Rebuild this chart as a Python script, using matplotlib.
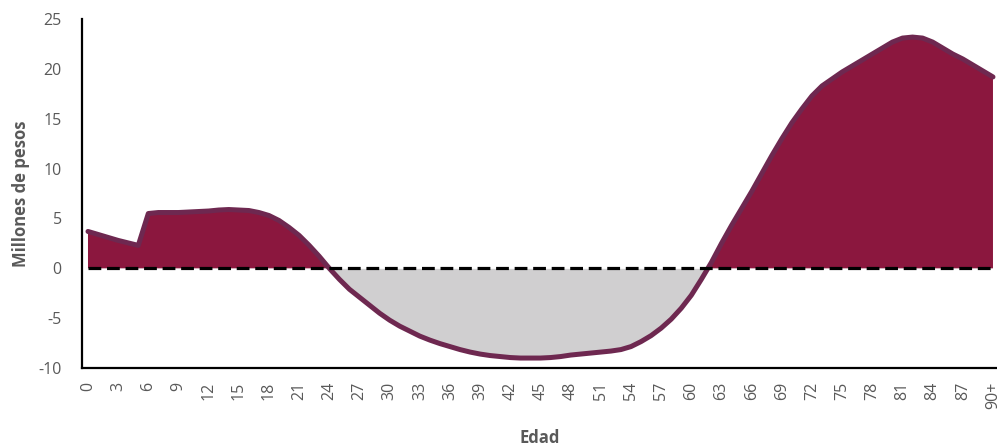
import matplotlib
matplotlib.use("Agg")
import matplotlib.pyplot as plt
import numpy as np

ages = list(range(91))
tick_labels = [str(a) for a in range(0, 90, 3)] + ["90+"]
values = [3.7, 3.4, 3.1, 2.8, 2.55, 2.3, 5.5, 5.6, 5.6, 5.6,
          5.65, 5.7, 5.75, 5.85, 5.9, 5.85, 5.8, 5.6, 5.3, 4.8,
          4.1, 3.3, 2.3, 1.2, 0.0, -1.1, -2.1, -2.9, -3.7, -4.5,
          -5.2, -5.8, -6.3, -6.8, -7.2, -7.55, -7.85, -8.15, -8.4, -8.6,
          -8.75, -8.85, -8.95, -9.0, -9.0, -9.0, -8.95, -8.85, -8.7, -8.6,
          -8.5, -8.4, -8.3, -8.15, -7.85, -7.35, -6.75, -6.0, -5.1, -4.0,
          -2.7, -1.1, 0.6, 2.5, 4.3, 6.0, 7.7, 9.5, 11.3, 13.0,
          14.6, 16.0, 17.3, 18.3, 19.0, 19.7, 20.3, 20.9, 21.5, 22.1,
          22.7, 23.1, 23.2, 23.1, 22.7, 22.1, 21.5, 21.0, 20.4, 19.8,
          19.2]

plt.rcParams['font.family'] = ['Open Sans', 'DejaVu Sans']
plt.rcParams['axes.unicode_minus'] = False
grey_txt = '#595959'

fig = plt.figure(figsize=(9.97, 4.45), dpi=100)
ax = fig.add_axes([0.0822, 0.173, 0.9178, 0.784])

x = np.array(ages, dtype=float)
y = np.array(values)
ax.fill_between(x, y, 0, where=y >= 0, interpolate=True, color='#8B173E', lw=0, zorder=1)
ax.fill_between(x, y, 0, where=y <= 0, interpolate=True, color='#D0CFD0', lw=0, zorder=1)
ax.plot(x, y, color='#6E2850', lw=3.6, solid_capstyle='round', solid_joinstyle='round', zorder=2)
ax.plot([x[0], x[-1]], [0, 0], color='black', lw=2.3, linestyle=(0, (4, 1.8)), zorder=3)

ax.set_xlim(-0.6, 90.4)
ax.set_ylim(-10, 25)
ax.set_yticks(range(-10, 30, 5))
ax.set_xticks(list(range(0, 90, 3)) + [90])
ax.set_xticklabels(tick_labels, rotation=90)
ax.tick_params(axis='both', length=0, labelsize=11.5, labelcolor=grey_txt)
ax.tick_params(axis='y', pad=14.5)
ax.tick_params(axis='x', pad=10)

for s in ['top', 'right']:
    ax.spines[s].set_visible(False)
for s in ['left', 'bottom']:
    ax.spines[s].set_color('black')
    ax.spines[s].set_linewidth(1.6)

ax.set_ylabel('Millones de pesos', fontsize=12, fontweight='bold', color=grey_txt, labelpad=6)
ax.set_xlabel('Edad', fontsize=12, fontweight='bold', color=grey_txt, labelpad=14)

fig.savefig('out.png', dpi=100)
